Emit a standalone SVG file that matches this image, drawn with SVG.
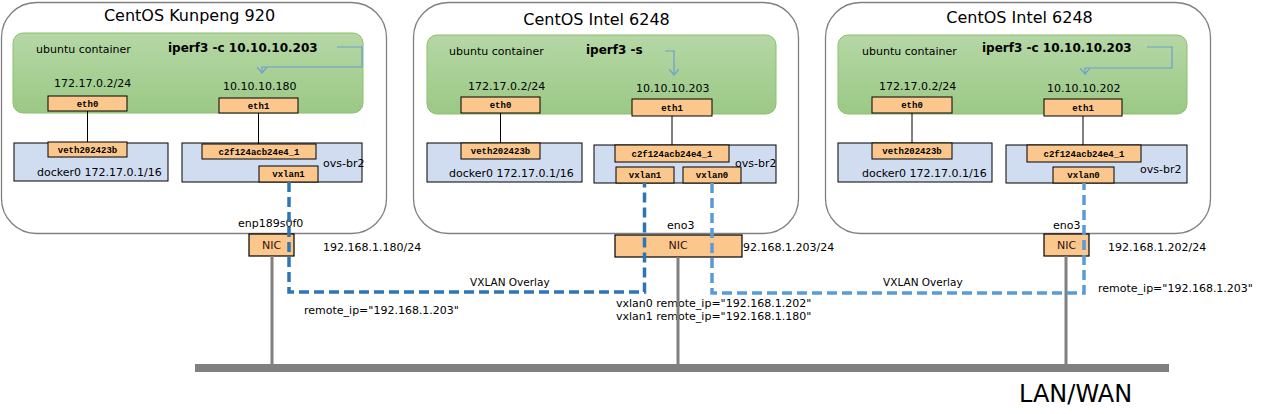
<svg xmlns="http://www.w3.org/2000/svg" width="1276" height="414" viewBox="0 0 1276 414">
<style>
text{font-family:"DejaVu Sans","Liberation Sans",sans-serif;fill:#000}
.host{fill:#fff;stroke:#808080;stroke-width:1.3}
.title{font-size:16px;text-anchor:middle}
.ctr{fill:url(#g);stroke:#8cbf6b;stroke-width:1}
.lbl{font-size:11px}
.cmd{font-size:12px;font-weight:bold}
.port{fill:#fbc78d;stroke:#000;stroke-width:1}
.pt{font-family:"Liberation Mono","DejaVu Sans Mono",monospace;font-size:9px;font-weight:bold;text-anchor:middle}
.br{fill:#d0dcf0;stroke:#000;stroke-width:1}
.nic{fill:#fbc78d;stroke:#000;stroke-width:1.2}
.nt{font-size:11px;text-anchor:middle;fill:#301010}
.blk{stroke:#000;stroke-width:1;fill:none}
.wire{stroke:#808080;stroke-width:3;fill:none}
.flow{stroke:#6a9fd2;stroke-width:1.2;fill:none;marker-end:url(#ah)}
.vxd{stroke:#2e75b6;stroke-width:3.5;stroke-dasharray:10 5;fill:none}
.vxl{stroke:#5b9bd5;stroke-width:3.5;stroke-dasharray:10 5;fill:none}
</style>
<defs>
<linearGradient id="g" x1="0" y1="0" x2="0" y2="1">
<stop offset="0" stop-color="#b5d7a6"/>
<stop offset="1" stop-color="#9bc985"/>
</linearGradient>
<marker id="ah" viewBox="0 0 10 10" refX="6" refY="5" markerWidth="10" markerHeight="10" markerUnits="userSpaceOnUse" orient="auto">
<path d="M0,0 L6,5 L0,10" fill="none" stroke="#6a9fd2" stroke-width="1.2"/>
</marker>
</defs>

<g id="host1">
<rect class="host" x="1.5" y="2.5" width="385" height="231" rx="35"/>
<text class="title" x="189.5" y="21">CentOS Kunpeng 920</text>
</g>
<g id="host2">
<rect class="host" x="413.5" y="2.5" width="385" height="231" rx="35"/>
<text class="title" x="596.5" y="25">CentOS Intel 6248</text>
</g>
<g id="host3">
<rect class="host" x="825.5" y="2.5" width="385" height="231" rx="35"/>
<text class="title" x="1019.5" y="23">CentOS Intel 6248</text>
</g>

<g id="container1">
<rect class="ctr" x="13" y="33" width="350" height="80" rx="10"/>
<text class="lbl" x="36" y="53">ubuntu container</text>
<text class="cmd" x="168" y="52">iperf3 -c 10.10.10.203</text>
<text class="lbl" x="54" y="87">172.17.0.2/24</text>
<text class="lbl" x="223" y="90">10.10.10.180</text>
</g>
<g id="container2">
<rect class="ctr" x="427" y="35" width="349" height="79" rx="10"/>
<text class="lbl" x="449" y="55">ubuntu container</text>
<text class="cmd" x="586" y="54">iperf3 -s</text>
<text class="lbl" x="468" y="90">172.17.0.2/24</text>
<text class="lbl" x="636" y="92">10.10.10.203</text>
</g>
<g id="container3">
<rect class="ctr" x="838" y="35" width="349" height="79" rx="10"/>
<text class="lbl" x="862" y="55">ubuntu container</text>
<text class="cmd" x="982" y="52">iperf3 -c 10.10.10.203</text>
<text class="lbl" x="879" y="90">172.17.0.2/24</text>
<text class="lbl" x="1047" y="92">10.10.10.202</text>
</g>

<g id="docker0-1">
<rect class="br" x="14" y="143" width="154" height="38"/>
<text class="lbl" x="37" y="176">docker0 172.17.0.1/16</text>
</g>
<g id="ovs-br2-1">
<rect class="br" x="182" y="143" width="180" height="39"/>
<text class="lbl" x="323" y="167">ovs-br2</text>
</g>
<g id="docker0-2">
<rect class="br" x="427" y="143" width="155" height="39"/>
<text class="lbl" x="449" y="177">docker0 172.17.0.1/16</text>
</g>
<g id="ovs-br2-2">
<rect class="br" x="594" y="145" width="182" height="38"/>
<text class="lbl" x="735" y="167">ovs-br2</text>
</g>
<g id="docker0-3">
<rect class="br" x="838" y="143" width="154" height="39"/>
<text class="lbl" x="862" y="177">docker0 172.17.0.1/16</text>
</g>
<g id="ovs-br2-3">
<rect class="br" x="1006" y="145" width="181" height="38"/>
<text class="lbl" x="1140" y="173">ovs-br2</text>
</g>

<g id="eth0-1"><rect class="port" x="48" y="96" width="79" height="15"/><text class="pt" x="87.5" y="106.5">eth0</text></g>
<g id="eth1-1"><rect class="port" x="219" y="98" width="79" height="15"/><text class="pt" x="258.5" y="108.5">eth1</text></g>
<g id="veth-1"><rect class="port" x="48" y="142" width="79" height="15"/><text class="pt" x="87.5" y="152.5">veth202423b</text></g>
<g id="c2f-1"><rect class="port" x="202" y="144" width="114" height="15"/><text class="pt" x="259" y="154.5">c2f124acb24e4_1</text></g>
<g id="vxlan1-1"><rect class="port" x="259" y="166" width="59" height="16"/><text class="pt" x="288.5" y="177">vxlan1</text></g>

<g id="eth0-2"><rect class="port" x="461" y="97" width="79" height="16"/><text class="pt" x="500.5" y="108">eth0</text></g>
<g id="eth1-2"><rect class="port" x="632" y="99" width="80" height="17"/><text class="pt" x="672" y="110.5">eth1</text></g>
<g id="veth-2"><rect class="port" x="461" y="143" width="79" height="16"/><text class="pt" x="500.5" y="154">veth202423b</text></g>
<g id="c2f-2"><rect class="port" x="615" y="145" width="114" height="17"/><text class="pt" x="672" y="156.5">c2f124acb24e4_1</text></g>
<g id="vxlan1-2"><rect class="port" x="616" y="167" width="58" height="16"/><text class="pt" x="645" y="178">vxlan1</text></g>
<g id="vxlan0-2"><rect class="port" x="683" y="167" width="58" height="16"/><text class="pt" x="712" y="178">vxlan0</text></g>

<g id="eth0-3"><rect class="port" x="872" y="97" width="80" height="16"/><text class="pt" x="912" y="108">eth0</text></g>
<g id="eth1-3"><rect class="port" x="1044" y="99" width="78" height="17"/><text class="pt" x="1083" y="110.5">eth1</text></g>
<g id="veth-3"><rect class="port" x="872" y="143" width="80" height="16"/><text class="pt" x="912" y="154">veth202423b</text></g>
<g id="c2f-3"><rect class="port" x="1027" y="145" width="114" height="17"/><text class="pt" x="1084" y="156.5">c2f124acb24e4_1</text></g>
<g id="vxlan0-3"><rect class="port" x="1053" y="167" width="61" height="16"/><text class="pt" x="1083.5" y="178">vxlan0</text></g>

<g id="lan">
<rect x="195" y="364" width="974" height="8" fill="#808080"/>
<text x="1019" y="402" style="font-size:24px">LAN/WAN</text>
</g>

<g id="nic1">
<text class="lbl" x="238" y="227">enp189s0f0</text>
<rect class="nic" x="249" y="234" width="45" height="22"/>
<text class="nt" x="271.5" y="249">NIC</text>
<text class="lbl" x="323" y="251">192.168.1.180/24</text>
</g>
<g id="nic2">
<text class="lbl" x="667" y="229">eno3</text>
<text class="lbl" x="736" y="251">192.168.1.203/24</text>
<rect class="nic" x="615" y="235" width="127" height="22"/>
<text class="nt" x="678" y="249">NIC</text>
</g>
<g id="nic3">
<text class="lbl" x="1053" y="229">eno3</text>
<rect class="nic" x="1044" y="234" width="45" height="22"/>
<text class="nt" x="1066.5" y="249">NIC</text>
<text class="lbl" x="1108" y="251">192.168.1.202/24</text>
</g>

<g id="labels">
<text class="lbl" x="470" y="286" style="font-size:10.5px">VXLAN Overlay</text>
<text class="lbl" x="883" y="286" style="font-size:10.5px">VXLAN Overlay</text>
<text class="lbl" x="304" y="314">remote_ip="192.168.1.203"</text>
<text class="lbl" x="1098" y="292">remote_ip="192.168.1.203"</text>
<text class="lbl" x="616" y="307">vxlan0 remote_ip="192.168.1.202"</text>
<text class="lbl" x="616" y="320">vxlan1 remote_ip="192.168.1.180"</text>
</g>

<g id="connectors">
<line class="blk" x1="87.5" y1="111" x2="87.5" y2="142"/>
<line class="blk" x1="258.5" y1="113" x2="258.5" y2="144"/>
<line class="blk" x1="500.5" y1="113" x2="500.5" y2="143"/>
<line class="blk" x1="672" y1="116" x2="672" y2="145"/>
<line class="blk" x1="912" y1="113" x2="912" y2="143"/>
<line class="blk" x1="1083" y1="116" x2="1083" y2="145"/>
<line class="wire" x1="272" y1="256" x2="272" y2="364"/>
<line class="wire" x1="678" y1="257" x2="678" y2="364"/>
<line class="wire" x1="1066" y1="256" x2="1066" y2="364"/>
<path class="flow" d="M337,47 H362 V67 H262 V73"/>
<path class="flow" d="M665,51 H674 V75"/>
<path class="flow" d="M1147,47 H1172 V68 H1085 V74"/>
<path class="vxd" d="M289,182 V292 H644.5 V183"/>
<path class="vxl" d="M712,183 V293 H1084 V183"/>
</g>
</svg>
